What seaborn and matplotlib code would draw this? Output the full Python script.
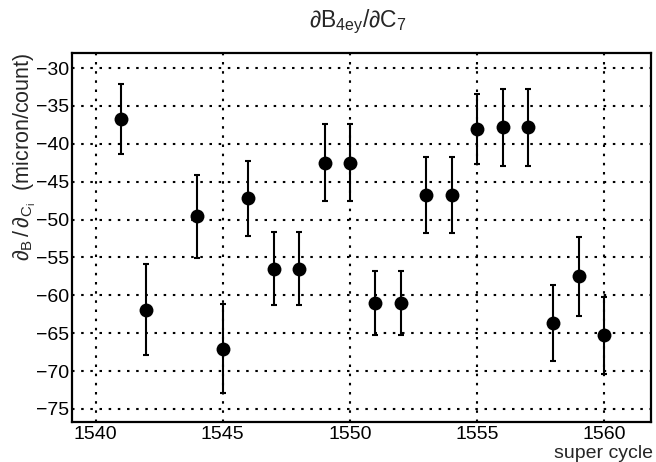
#!/usr/bin/env python3

import matplotlib
matplotlib.use("Agg")
import matplotlib.pyplot as plt
from matplotlib.ticker import MultipleLocator
import numpy as np
import pandas as pd
import seaborn as sns

# values
cycles = [1541, 1542, 1544, 1545, 1546, 1547, 1548, 1549, 1550, 1551,
          1552, 1553, 1554, 1555, 1556, 1557, 1558, 1559, 1560]
slopes = [-36.7, -61.9, -49.55, -67.05, -47.2, -56.5, -56.5, -42.5, -42.5, -61.0,
          -61.0, -46.8, -46.8, -38.0, -37.8, -37.8, -63.7, -57.5, -65.3]
errors = [4.6, 6.0, 5.5, 5.85, 5.0, 4.8, 4.8, 5.1, 5.1, 4.25,
          4.25, 5.0, 5.0, 4.6, 5.1, 5.1, 5.0, 5.2, 5.1]

x_ticks = [1540, 1545, 1550, 1555, 1560]
y_ticks = [-75, -70, -65, -60, -55, -50, -45, -40, -35, -30]

sns.set_theme(style="white")
plt.rcParams['font.family'] = ['Liberation Sans', 'DejaVu Sans']
plt.rcParams['mathtext.fontset'] = 'custom'
plt.rcParams['mathtext.rm'] = 'Liberation Sans'
plt.rcParams['mathtext.it'] = 'Liberation Sans'
plt.rcParams['mathtext.sf'] = 'Liberation Sans'

data = pd.DataFrame({"cycle": cycles, "slope": slopes, "err": errors})

fig = plt.figure(figsize=(6.56, 4.62), dpi=100)
ax = fig.add_axes([0.110, 0.086, 0.883, 0.799])

## error bars then markers
ax.errorbar(data["cycle"], data["slope"], yerr=data["err"], fmt='none',
            ecolor='black', elinewidth=1.5, capsize=2.5, capthick=1.5, zorder=3)
sns.scatterplot(x="cycle", y="slope", data=data, ax=ax, color='black',
                s=100, edgecolor='black', linewidth=0, zorder=4)

ax.set_xlim(1539.08, 1561.85)
ax.set_ylim(-76.76, -28.02)

ax.set_xticks(x_ticks)
ax.set_yticks(y_ticks)
ax.set_yticklabels([f"\u2212{abs(v)}" for v in y_ticks])
ax.xaxis.set_minor_locator(MultipleLocator(1))
ax.yaxis.set_minor_locator(MultipleLocator(1))
ax.tick_params(axis='both', which='both', direction='in', colors='black',
               labelsize=14, top=False, right=False)
ax.tick_params(axis='y', which='major', length=12, width=1.3, pad=2)
ax.tick_params(axis='y', which='minor', length=6, width=1.0)
ax.tick_params(axis='x', which='major', length=10, width=1.3, pad=3)
ax.tick_params(axis='x', which='minor', length=5, width=1.0)

ax.grid(True, which='major', color='black', linestyle=(0, (1.2, 3.2)), linewidth=1.5)

for s in ["top", "right", "left", "bottom"]:
    ax.spines[s].set_visible(True)
    ax.spines[s].set_color('black')
    ax.spines[s].set_linewidth(1.6)

ax.set_xlabel('')
ax.set_ylabel('')
fig.text(0.995, 0.0, "super cycle", ha='right', va='bottom', fontsize=14)
fig.text(0.038, 0.887,
         r'$\partial_{\mathrm{B}}\,/\,\partial_{\mathrm{C}_{\mathrm{i}}}$  (micron/count)',
         rotation=90, ha='center', va='top', fontsize=15.5)
fig.text(0.546, 0.953, r'$\partial\mathrm{B}_{\mathrm{4ey}}/\partial\mathrm{C}_{7}$',
         ha='center', va='center', fontsize=16.5)

plt.savefig("out.png", dpi=100)
plt.close()
